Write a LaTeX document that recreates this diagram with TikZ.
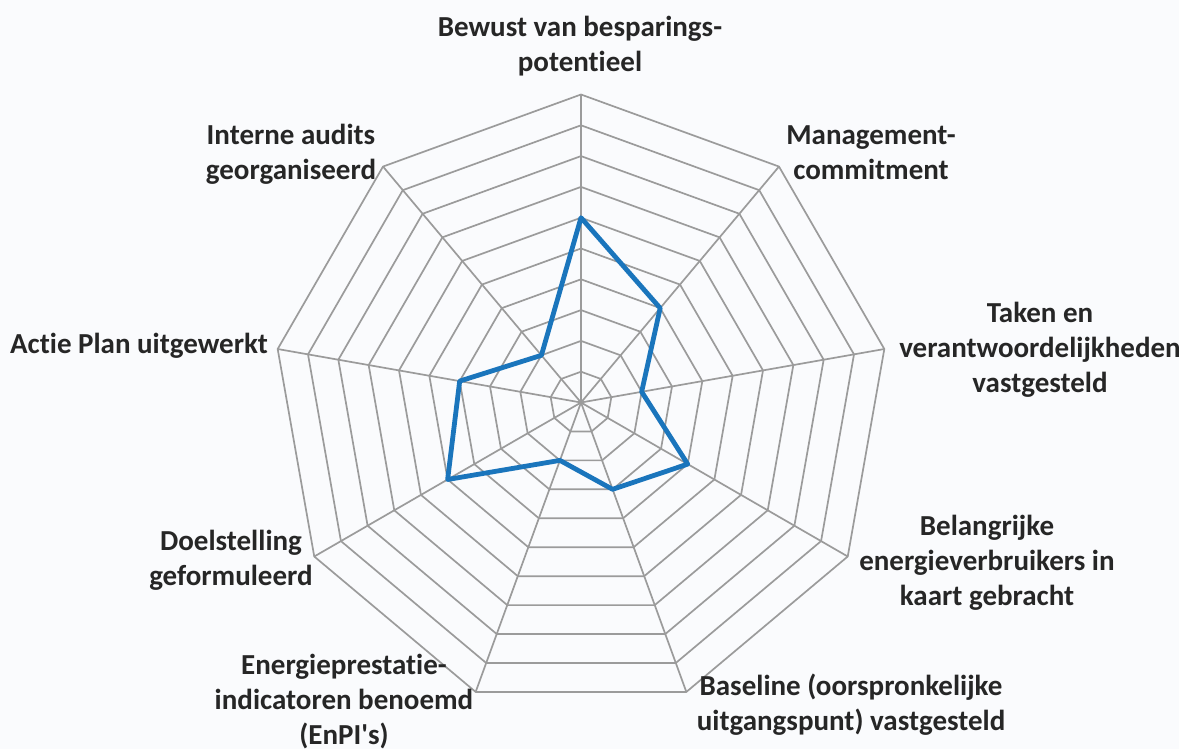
\documentclass[tikz,border=0pt]{standalone}
\usepackage{fontspec}
\setmainfont{Carlito}
\newfontfamily\labfont{Carlito}[Ligatures=NoCommon]
\usetikzlibrary{calc}
\definecolor{bgwhite}{RGB}{250,251,253}
\definecolor{gridgray}{RGB}{155,155,155}
\definecolor{seriesblue}{RGB}{26,117,188}
\definecolor{labelgray}{RGB}{38,38,38}
\newcommand{\lab}[1]{\begin{tabular}[t]{@{}c@{}}#1\end{tabular}}
\begin{document}
\begin{tikzpicture}[x=0.5pt,y=-0.5pt,
  grid/.style={draw=gridgray, line width=0.85pt, line join=miter},
  series/.style={draw=seriesblue, line width=2.4pt, line join=round},
  lbl/.style={inner sep=0pt, anchor=base, text=labelgray,
    font=\labfont\bfseries\fontsize{14.5pt}{17.5pt}\selectfont}]
\fill[bgwhite] (0,0) rectangle (1179,749);
\useasboundingbox (0,0) rectangle (1179,749);
\coordinate (c) at (581,402.5);
% rings
\foreach \r in {1,...,10} {
  \draw[grid] ($(c)+(-90:\r*30.8)$)
    \foreach \k in {1,...,8} { -- ($(c)+({40*\k-90}:\r*30.8)$) } -- cycle;
}
% spokes
\foreach \k in {0,...,8} {
  \coordinate (v\k) at ($(c)+({40*\k-90}:308)$);
  \draw[grid] (c) -- (v\k);
}
% data series
\foreach \k/\v in {0/6,1/4,2/2,3/4,4/3,5/2,6/5,7/4,8/2} {
  \coordinate (p\k) at ($(c)+({40*\k-90}:\v*30.8)$);
}
\draw[series] (p0) -- (p1) -- (p2) -- (p3) -- (p4) -- (p5) -- (p6) -- (p7) -- (p8) -- cycle;
% labels
\node[lbl] (l0) at (580,37) {\lab{Bewust van besparings-\\potentieel}};
\node[lbl] (l1) at (871,145) {\lab{Management-\\commitment}};
\node[lbl] (l2) at (1040,322) {\lab{Taken en\\verantwoordelijkheden\\vastgesteld}};
\node[lbl] (l3) at (987,535) {\lab{Belangrijke\\energieverbruikers in\\kaart gebracht}};
\node[lbl] (l4) at (851,695) {\lab{Baseline (oorspronkelijke\\uitgangspunt) vastgesteld}};
\node[lbl] (l5) at (344,674) {\lab{Energieprestatie-\\indicatoren benoemd\\(EnPI's)}};
\node[lbl] (l6) at (231,550) {\lab{Doelstelling\\geformuleerd}};
\node[lbl] (l7) at (139,353) {\lab{Actie Plan uitgewerkt}};
\node[lbl] (l8) at (291,145) {\lab{Interne audits\\georganiseerd}};
\end{tikzpicture}
\end{document}
